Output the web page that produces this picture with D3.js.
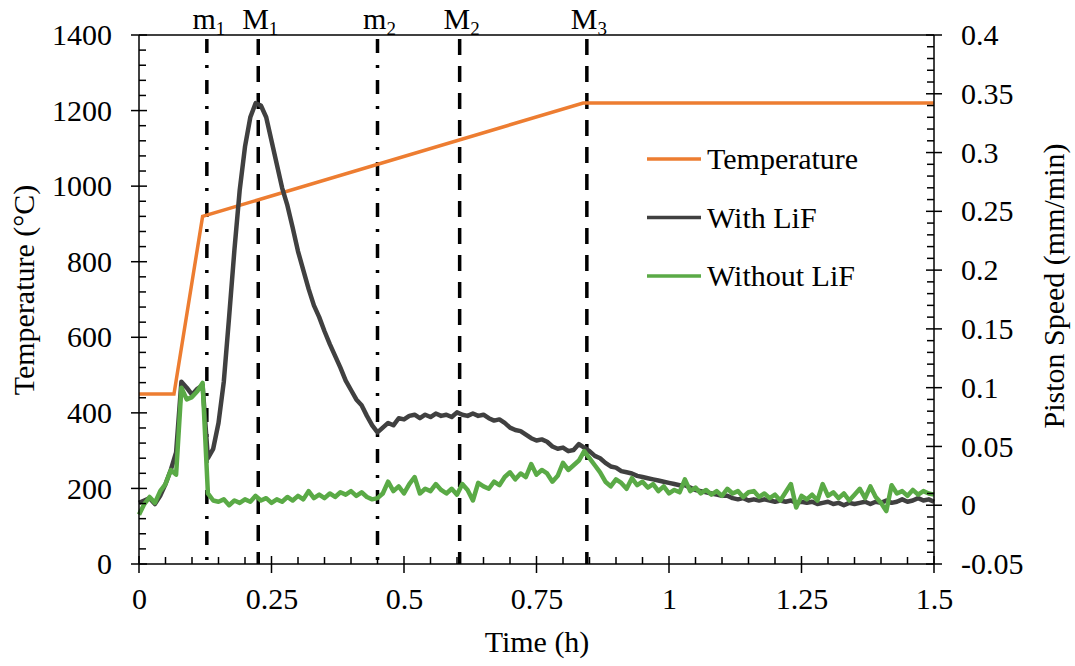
<!DOCTYPE html>
<html lang="en">
<head>
<meta charset="UTF-8">
<title>Temperature and piston speed</title>
<script src="https://d3js.org/d3.v7.min.js"></script>
<style>
  body { margin: 0; background: white; }
  svg text { font-family: "Liberation Serif", "Times New Roman", serif; fill: black; }
</style>
</head>
<body>
<div id="chart"></div>
<script>
// ---- data ----
const step = 0.01; // h, sampling of the piston speed traces
const withLiF = [
  0.002, 0.004, 0.006, 0.001, 0.008, 0.018, 0.030, 0.045, 0.105, 0.100,
  0.094, 0.099, 0.102, 0.040, 0.048, 0.070, 0.105, 0.160, 0.217, 0.268,
  0.305, 0.330, 0.342, 0.340, 0.330, 0.310, 0.290, 0.270, 0.255, 0.236,
  0.216, 0.200, 0.184, 0.170, 0.160, 0.148, 0.137, 0.127, 0.117, 0.106,
  0.098, 0.090, 0.085, 0.076, 0.068, 0.062, 0.066, 0.070, 0.068, 0.074,
  0.073, 0.076, 0.077, 0.074, 0.077, 0.075, 0.078, 0.076, 0.077, 0.075,
  0.079, 0.077, 0.076, 0.078, 0.076, 0.077, 0.074, 0.072, 0.073, 0.070,
  0.066, 0.064, 0.063, 0.060, 0.057, 0.055, 0.056, 0.054, 0.050, 0.048,
  0.049, 0.046, 0.047, 0.052, 0.049, 0.046, 0.042, 0.040, 0.036, 0.033,
  0.032, 0.029, 0.028, 0.027, 0.025, 0.024, 0.023, 0.022, 0.021, 0.020,
  0.019, 0.018, 0.017, 0.017, 0.015, 0.013, 0.012, 0.011, 0.010, 0.009,
  0.008, 0.008, 0.006, 0.005, 0.006, 0.004, 0.005, 0.004, 0.005, 0.004,
  0.003, 0.004, 0.003, 0.004, 0.002, 0.003, 0.002, 0.003, 0.001, 0.002,
  0.003, 0.001, 0.002, 0.000, 0.002, 0.001, 0.002, 0.003, 0.001, 0.003,
  0.002, 0.004, 0.002, 0.003, 0.005, 0.003, 0.004, 0.006, 0.004, 0.005,
  0.003
];
const withoutLiF = [
  -0.008, 0.001, 0.007, 0.002, 0.012, 0.018, 0.030, 0.026, 0.100, 0.090,
  0.092, 0.097, 0.104, 0.010, 0.004, 0.003, 0.005, 0.000, 0.004, 0.002,
  0.005, 0.003, 0.008, 0.004, 0.006, 0.002, 0.005, 0.003, 0.007, 0.004,
  0.008, 0.005, 0.012, 0.006, 0.009, 0.006, 0.010, 0.007, 0.011, 0.009,
  0.012, 0.008, 0.011, 0.007, 0.005, 0.006, 0.010, 0.020, 0.012, 0.016,
  0.010, 0.018, 0.024, 0.010, 0.014, 0.012, 0.018, 0.013, 0.010, 0.014,
  0.009, 0.018, 0.013, 0.004, 0.019, 0.016, 0.014, 0.020, 0.017, 0.024,
  0.028, 0.022, 0.027, 0.024, 0.035, 0.026, 0.030, 0.027, 0.020, 0.025,
  0.036, 0.030, 0.034, 0.038, 0.046, 0.040, 0.034, 0.028, 0.020, 0.016,
  0.022, 0.019, 0.014, 0.023, 0.017, 0.020, 0.015, 0.018, 0.012, 0.016,
  0.010, 0.013, 0.011, 0.022, 0.012, 0.015, 0.010, 0.013, 0.009, 0.012,
  0.008, 0.014, 0.010, 0.012, 0.007, 0.011, 0.012, 0.007, 0.010, 0.006,
  0.009, 0.004, 0.011, 0.018, -0.002, 0.008, 0.005, 0.009, 0.004, 0.018,
  0.008, 0.011, 0.006, 0.010, 0.004, 0.009, 0.014, 0.006, 0.016, 0.007,
  0.002, -0.005, 0.017, 0.010, 0.012, 0.008, 0.013, 0.009, 0.012, 0.010,
  0.009
];
const tempTime = [0, 0.066, 0.12, 0.838, 1.5];
const tempValues = [450, 450, 920, 1220, 1220];

const markerNames = ["m", "M", "m", "M", "M"];
const markerSubs = ["1", "1", "2", "2", "3"];
const markerTimes = [0.128, 0.225, 0.45, 0.605, 0.845];

const xTicks = [0, 0.25, 0.5, 0.75, 1, 1.25, 1.5];
const leftTicks = [0, 200, 400, 600, 800, 1000, 1200, 1400];
const rightTicks = [-0.05, 0, 0.05, 0.1, 0.15, 0.2, 0.25, 0.3, 0.35, 0.4];
const legendNames = ["Temperature", "With LiF", "Without LiF"];

// ---- layout ----
const W = 1075, H = 666;
const pLeft = 139, pRight = 934, pTop = 35, pBottom = 564;
const cTemp = "#ED7D31", cWith = "#404040", cWithout = "#5AAA46";
const fs = "30px";
const serif = "Liberation Serif";

const x = d3.scaleLinear().domain([0, 1.5]).range([pLeft, pRight]);
const yL = d3.scaleLinear().domain([0, 1400]).range([pBottom, pTop]);
const yR = d3.scaleLinear().domain([-0.05, 0.4]).range([pBottom, pTop]);

const svg = d3.select("#chart").append("svg")
  .attr("width", W).attr("height", H)
  .attr("font-family", serif);

// frame: top border
svg.append("line")
  .attr("x1", pLeft).attr("x2", pRight).attr("y1", pTop).attr("y2", pTop)
  .attr("stroke", "black").attr("stroke-width", 1.5);

// marker lines
markerTimes.forEach(function(t, i) {
  svg.append("line")
    .attr("x1", x(t)).attr("x2", x(t)).attr("y1", pTop + 4).attr("y2", pBottom)
    .attr("stroke", "black").attr("stroke-width", 3.5)
    .attr("stroke-dasharray", markerNames[i] == "m" ? "14,12,3,12" : "16,11");
  const lbl = svg.append("text")
    .attr("x", x(t) + 2).attr("y", 29)
    .attr("text-anchor", "middle")
    .style("font-family", serif)
    .style("font-size", fs);
  lbl.append("tspan").text(markerNames[i]);
  lbl.append("tspan").attr("dy", 6).style("font-size", "19px").text(markerSubs[i]);
});

// data lines
const tempLine = d3.line().x(function(d) { return x(d[0]); }).y(function(d) { return yL(d[1]); });
svg.append("path")
  .datum(tempTime.map(function(t, i) { return [t, tempValues[i]]; }))
  .attr("d", tempLine).attr("fill", "none")
  .attr("stroke", cTemp).attr("stroke-width", 3.5);

const speedLine = d3.line().x(function(d, i) { return x(i * step); }).y(function(d) { return yR(d); });
svg.append("path").datum(withLiF).attr("d", speedLine).attr("fill", "none")
  .attr("stroke", cWith).attr("stroke-width", 4.5).attr("stroke-linejoin", "round");
svg.append("path").datum(withoutLiF).attr("d", speedLine).attr("fill", "none")
  .attr("stroke", cWithout).attr("stroke-width", 4.5).attr("stroke-linejoin", "round");

// axes: lines, ticks, labels
function tick(x1, y1, x2, y2) {
  svg.append("line").attr("x1", x1).attr("y1", y1).attr("x2", x2).attr("y2", y2)
    .attr("stroke", "black").attr("stroke-width", 1.5);
}
tick(pLeft, pTop, pLeft, pBottom);
tick(pRight, pTop, pRight, pBottom);
tick(pLeft, pBottom, pRight, pBottom);

function styleLabels(g) {
  g.select(".domain").remove();
  g.attr("font-family", serif);
  g.selectAll("text").style("font-size", fs).style("font-family", serif).attr("fill", "black");
}

// left axis
d3.range(0, 1401, 40).forEach(function(v) {
  if (v % 200 == 0) tick(pLeft - 8, yL(v), pLeft + 8, yL(v));
  else tick(pLeft, yL(v), pLeft + 7, yL(v));
});
svg.append("g").attr("transform", "translate(" + (pLeft - 27) + ",0)")
  .call(d3.axisLeft(yL).tickValues(leftTicks).tickSize(0).tickPadding(0).tickFormat(d3.format("d")))
  .call(styleLabels);

// right axis
d3.range(-50, 401, 10).forEach(function(v) {
  if (v % 50 == 0) tick(pRight - 8, yR(v / 1000), pRight + 8, yR(v / 1000));
  else tick(pRight - 7, yR(v / 1000), pRight, yR(v / 1000));
});
svg.append("g").attr("transform", "translate(" + (pRight + 27) + ",0)")
  .call(d3.axisRight(yR).tickValues(rightTicks).tickSize(0).tickPadding(0).tickFormat(function(d) { return String(+d.toFixed(2)); }))
  .call(styleLabels);

// bottom axis
d3.range(0, 151, 5).forEach(function(v) {
  if (v % 25 == 0) tick(x(v / 100), pBottom - 8, x(v / 100), pBottom + 9);
  else tick(x(v / 100), pBottom - 7, x(v / 100), pBottom);
});
svg.append("g").attr("transform", "translate(0," + (pBottom + 24) + ")")
  .call(d3.axisBottom(x).tickValues(xTicks).tickSize(0).tickPadding(0).tickFormat(function(d) { return String(d); }))
  .call(styleLabels);

// axis titles
svg.append("text").attr("x", 537).attr("y", 652)
  .attr("text-anchor", "middle").style("font-size", fs).text("Time (h)");
svg.append("text").attr("transform", "translate(34,290) rotate(-90)")
  .attr("text-anchor", "middle").style("font-size", fs).text("Temperature (\u00B0C)");
svg.append("text").attr("transform", "translate(1064,286) rotate(-90)")
  .attr("text-anchor", "middle").style("font-size", fs).text("Piston Speed (mm/min)");

// legend
const legendColors = [cTemp, cWith, cWithout];
legendNames.forEach(function(name, i) {
  const ly = 159 + i * 58.5;
  svg.append("line").attr("x1", 647).attr("x2", 701).attr("y1", ly).attr("y2", ly)
    .attr("stroke", legendColors[i]).attr("stroke-width", 3.5);
  svg.append("text").attr("x", 707).attr("y", ly + 10)
    .style("font-size", fs).text(name);
});
</script>
</body>
</html>
